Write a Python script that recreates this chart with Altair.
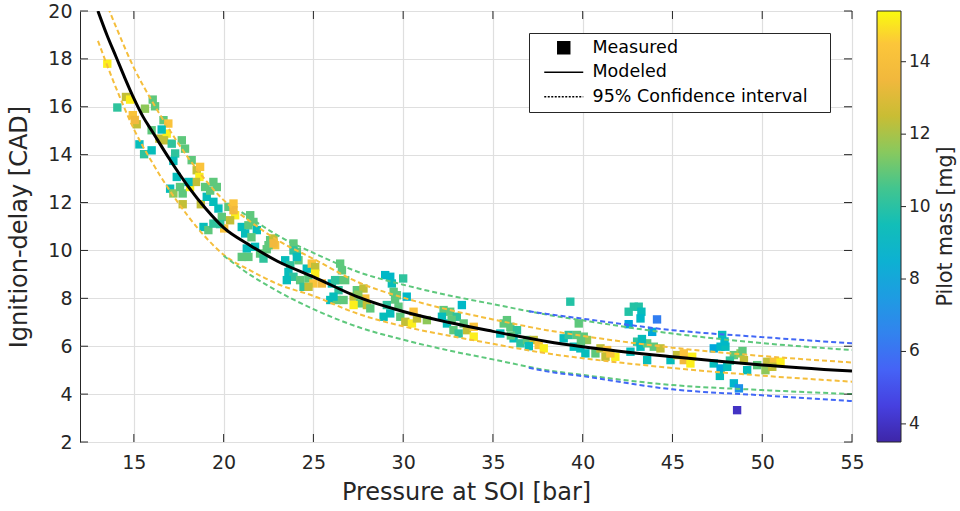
import altair as alt
import pandas as pd

# ---------------- measured points: pressure at SOI [bar], ignition delay [CAD], pilot mass [mg]
P_meas = [13.52, 14.08, 14.56, 14.79, 14.94, 15.16, 15.05, 15.31, 15.57, 15.62, 16.05, 16.18, 15.99, 15.99,
          16.42, 16.65, 16.92, 16.83, 16.68, 16.55, 17.11, 17.30, 17.67, 17.85, 17.20, 17.02, 17.20, 17.72,
          17.72, 17.39, 17.57, 18.13, 18.22, 18.50, 18.69, 18.65, 18.46, 18.04, 18.73, 18.97, 19.43, 19.62,
          19.06, 19.43, 19.71, 18.88, 19.15, 19.43, 19.90, 20.27, 20.55, 20.64, 20.36, 20.03, 20.55, 19.25, 19.80,
          21.01, 21.38, 21.48, 21.66, 21.20, 21.29, 21.01, 21.38, 21.75, 22.03, 22.22, 22.40, 22.59, 22.78,
          22.87, 22.50, 21.85, 21.55, 22.78,
          23.43, 23.71, 23.89, 24.08, 24.17, 23.61, 23.89, 23.52, 24.26, 24.45, 24.63, 24.91, 25.10, 25.10,
          24.72, 25.00, 25.47, 24.73, 23.89, 24.08,
          26.03, 26.31, 26.49, 26.59, 26.40, 25.94, 26.31, 26.68, 26.12, 26.77, 26.21,
          27.24, 27.42, 27.79, 27.89, 27.61, 27.98, 27.24, 28.17, 27.50,
          29.00, 29.28, 30.00, 30.20, 29.37, 29.47, 29.65, 28.91, 29.28, 29.74, 29.09, 29.84, 30.12, 30.49,
          30.58, 30.77, 31.32, 29.55,
          33.27, 32.25, 32.62, 32.16, 32.99, 32.44, 32.80, 33.37, 33.55, 33.93, 33.93, 33.09, 32.70,
          35.60, 35.97, 35.41, 36.34, 36.15, 36.53, 36.90, 37.27, 37.55, 37.83, 35.78, 36.00, 37.00,
          39.31, 39.78, 38.94, 39.22, 39.68, 40.06, 40.24, 39.50, 39.87, 40.15, 39.90, 40.71, 40.99, 41.36,
          41.27, 41.82, 41.54,
          42.56, 42.85, 43.12, 43.27, 43.22, 42.56, 44.14, 43.87, 43.03, 43.22, 43.59, 43.96, 44.33, 43.59,
          42.66, 43.30,
          44.89, 45.26, 45.63, 45.63, 46.00, 46.10,
          47.30, 47.77, 47.68, 47.95, 47.30, 47.68, 48.05, 47.64, 48.42, 48.79, 48.98, 49.16, 48.42, 48.70,
          48.60, 48.20, 47.90, 48.90,
          49.72, 50.18, 50.28, 50.65, 51.02, 50.56]
ID_meas = [17.80, 15.97, 16.41, 16.30, 15.65, 15.27, 15.45, 14.43, 14.02, 15.92, 16.30, 16.02, 15.02, 14.18,
           14.67, 15.44, 15.30, 14.88, 14.60, 15.05, 14.46, 14.05, 14.60, 14.25, 13.74, 12.58, 12.38, 11.93,
           12.38, 13.07, 12.65, 12.65, 13.77, 13.35, 13.49, 13.07, 12.86, 12.86, 11.93, 12.65, 12.86, 12.65,
           12.24, 12.03, 11.75, 10.98, 10.85, 11.12, 11.40, 11.82, 11.96, 11.47, 11.26, 10.92, 11.68, 12.50, 11.10,
           10.98, 11.05, 11.47, 11.19, 10.71, 10.08, 9.73, 9.73, 10.15, 9.87, 9.66, 10.05, 10.43, 10.50,
           10.22, 10.22, 10.85, 10.55, 10.29,
           9.59, 9.38, 10.29, 9.94, 9.59, 9.10, 8.90, 8.76, 8.76, 8.48, 9.24, 9.45, 9.31, 9.03,
           8.83, 8.62, 8.62, 8.48, 10.00, 9.73,
           8.62, 8.76, 9.45, 9.17, 8.34, 7.93, 7.93, 7.93, 8.07, 8.76, 8.76,
           8.07, 8.34, 8.41, 7.99, 7.79, 7.72, 7.72, 7.58, 8.15,
           8.97, 8.90, 8.83, 8.07, 8.62, 8.27, 8.13, 7.23, 7.37, 7.65, 7.72, 7.23, 7.02, 6.95,
           7.44, 7.16, 7.09, 7.95,
           7.72, 7.51, 7.44, 7.23, 7.23, 6.95, 6.67, 6.95, 6.67, 6.81, 6.40, 6.53, 7.10,
           6.95, 6.81, 6.53, 6.67, 6.33, 6.12, 6.26, 6.26, 6.05, 5.91, 7.09, 6.45, 6.00,
           7.86, 6.95, 6.33, 6.47, 6.47, 6.40, 6.26, 5.98, 5.91, 5.70, 6.20, 5.70, 5.91, 5.84,
           5.56, 5.56, 5.70,
           7.44, 7.65, 7.65, 7.44, 7.16, 6.92, 7.12, 6.60, 6.19, 5.98, 6.12, 5.98, 5.91, 5.42,
           5.77, 6.30,
           5.42, 5.63, 5.70, 5.42, 5.28, 5.56,
           5.91, 6.47, 5.98, 5.98, 5.28, 5.07, 5.14, 4.76, 5.63, 5.70, 5.42, 5.00, 4.45, 4.24,
           3.33, 5.40, 6.20, 5.80,
           5.21, 5.00, 5.35, 5.35, 5.35, 5.14]
M_meas = [15.2, 10.2, 12.4, 15.2, 14.3, 12.4, 13.6, 9.4, 10.2, 11.6, 10.9, 10.9, 10.9, 9.4,
          12.4, 10.9, 14.3, 15.2, 12.4, 9.4, 10.2, 10.2, 10.9, 10.9, 9.4, 9.4, 11.6, 12.4,
          10.9, 9.4, 10.9, 15.2, 10.9, 12.4, 14.3, 15.2, 12.4, 9.4, 12.4, 10.9, 10.9, 10.9,
          9.4, 9.4, 9.4, 9.4, 10.9, 10.2, 10.9, 10.9, 14.3, 15.2, 12.4, 14.3, 13.6, 10.9, 10.2,
          9.4, 10.9, 10.9, 10.9, 9.4, 9.4, 10.9, 10.9, 9.4, 10.9, 10.2, 10.9, 10.9, 12.4,
          14.3, 10.9, 9.4, 10.9, 13.6,
          9.4, 10.2, 10.9, 10.9, 10.9, 9.4, 10.2, 9.4, 10.9, 10.2, 9.4, 14.3, 12.4, 15.2,
          10.9, 14.3, 13.6, 12.4, 10.2, 9.4,
          9.4, 10.9, 10.9, 10.9, 10.2, 9.4, 10.9, 10.9, 9.4, 10.9, 10.2,
          12.4, 10.9, 12.4, 14.3, 10.9, 12.4, 15.2, 10.9, 11.6,
          9.0, 9.0, 10.2, 9.0, 9.4, 10.9, 10.9, 9.4, 9.4, 10.9, 10.2, 10.9, 12.4, 15.2,
          14.3, 12.4, 11.6, 10.9,
          9.0, 10.9, 10.9, 9.4, 10.2, 9.4, 10.9, 10.9, 12.4, 14.3, 15.2, 10.2, 10.9,
          10.9, 10.9, 9.4, 10.2, 9.4, 10.2, 10.9, 12.4, 14.3, 15.2, 10.9, 10.9, 9.4,
          10.0, 10.9, 9.4, 10.2, 10.9, 10.9, 11.6, 9.4, 9.4, 9.4, 10.9, 10.9, 12.4, 14.3,
          12.4, 15.2, 14.3,
          10.0, 10.0, 10.0, 9.4, 9.0, 7.8, 6.3, 8.0, 10.2, 9.4, 10.9, 10.9, 12.4, 9.4,
          9.4, 9.4,
          9.4, 12.4, 14.3, 13.6, 15.2, 15.2,
          8.0, 9.4, 9.0, 9.4, 9.4, 8.0, 9.4, 9.4, 10.9, 11.6, 12.4, 9.4, 8.8, 7.0,
          4.0, 10.2, 9.0, 10.9,
          10.9, 11.6, 12.4, 14.3, 15.2, 12.4]

# ---------------- modeled curve
P_model = [13.0, 13.5, 14.0, 14.5, 15.0, 15.5, 16.0, 17.0, 18.0, 19.0, 20.0, 21.5, 23.0, 25.0,
           27.5, 30.0, 32.5, 35.0, 38.0, 40.0, 45.0, 50.0, 55.0]
ID_model = [20.0, 19.0, 18.1, 17.2, 16.35, 15.6, 15.0, 13.8, 12.7, 11.75, 10.95, 10.2, 9.55, 8.9,
            8.05, 7.45, 7.0, 6.62, 6.2, 5.98, 5.56, 5.22, 4.96]

# ---------------- 95 % confidence intervals (one pair per pilot mass group)
ci_orange_mass = 13.9
ci_orange_up_P = [13.4, 14, 15, 16, 17, 18, 19, 20, 21.5, 23, 25, 27.5, 30, 32.5, 35, 38, 40, 45, 50, 55]
ci_orange_up = [20.45, 19.35, 17.63, 16.25, 15.02, 13.9, 12.93, 12.1, 11.2, 10.43, 9.65, 8.67, 8.03,
                7.53, 7.12, 6.67, 6.43, 5.94, 5.59, 5.32]
ci_orange_lo_P = [13.0, 14, 15, 16, 17, 18, 19, 20, 21.5, 23, 25, 27.5, 30, 32.5, 35, 38, 40, 45, 50, 55]
ci_orange_lo = [18.75, 16.8, 15.07, 13.7, 12.5, 11.45, 10.55, 9.82, 9.16, 8.6, 8.1, 7.35, 6.83,
                6.45, 6.1, 5.7, 5.5, 5.09, 4.77, 4.52]
ci_green_mass = 10.9
ci_green_up_P = [21.0, 22, 23, 25, 27.5, 30, 32.5, 35, 38, 40, 45, 50, 55]
ci_green_up = [11.6, 11.1, 10.63, 9.9, 9.1, 8.57, 8.13, 7.76, 7.32, 7.08, 6.53, 6.13, 5.84]
ci_green_lo_P = [20.0, 21.5, 23, 25, 27.5, 30, 32.5, 35, 38, 40, 45, 50, 55]
ci_green_lo = [9.78, 8.97, 8.3, 7.55, 6.8, 6.27, 5.83, 5.45, 5.0, 4.8, 4.38, 4.17, 4.0]
ci_blue_mass = 5.6
ci_blue_P = [37, 38, 40, 45, 50, 55]
ci_blue_up = [7.46, 7.35, 7.15, 6.67, 6.38, 6.12]
ci_blue_lo = [5.1, 4.95, 4.75, 4.2, 3.95, 3.71]

x_ticks = [15, 20, 25, 30, 35, 40, 45, 50, 55]
y_ticks = [2, 4, 6, 8, 10, 12, 14, 16, 18, 20]
cbar_ticks = [4, 6, 8, 10, 12, 14]
cbar_range = [3.5, 15.4]
cbar_title = ["Pilot mass [mg]"]
legend_items = ["Measured", "Modeled", "95% Confidence interval"]

# parula-like colour map
c_dom = [3.5, 4.5, 5.5, 6.5, 7.5, 8.5, 9.5, 10.5, 11.5, 12.5, 13.5, 14.5, 15.4]
c_rng = ["#3E26A8", "#4640E0", "#4563F6", "#3283EE", "#1E9CE2", "#0DB1D2", "#12BEB8",
         "#42C58F", "#88C95E", "#C9BD34", "#F1B83D", "#FCC63A", "#F9FB0E"]

# ---------------- tables
meas = pd.DataFrame({"P": P_meas, "ID": ID_meas, "mass": M_meas})
model = pd.DataFrame({"P": P_model, "ID": ID_model})
rows = []
for name, mass, ps, vs in [
    ("orange_up", ci_orange_mass, ci_orange_up_P, ci_orange_up),
    ("orange_lo", ci_orange_mass, ci_orange_lo_P, ci_orange_lo),
    ("green_up", ci_green_mass, ci_green_up_P, ci_green_up),
    ("green_lo", ci_green_mass, ci_green_lo_P, ci_green_lo),
    ("blue_up", ci_blue_mass, ci_blue_P, ci_blue_up),
    ("blue_lo", ci_blue_mass, ci_blue_P, ci_blue_lo),
]:
    for p, v in zip(ps, vs):
        rows.append({"curve": name, "mass": mass, "P": p, "ID": v})
ci = pd.DataFrame(rows)

FONT = "DejaVu Sans"
TXT = "#262626"
W, H = 772, 431
CB_X0, CB_X1 = 797, 821          # colour bar position (right of the axes box)

xs = alt.Scale(domain=[12, 55], nice=False, zero=False)
ys = alt.Scale(domain=[2, 20], nice=False, zero=False)
cscale = alt.Scale(domain=c_dom, range=c_rng)

x_axis = alt.Axis(values=x_ticks, title="Pressure at SOI [bar]", labelPadding=11, titlePadding=8,
                  labelFlush=False, labelOverlap=False)
y_axis = alt.Axis(values=y_ticks, title="Ignition-delay [CAD]", labelPadding=8, titlePadding=16,
                  labelFlush=False, labelOverlap=False)
x_enc = alt.X("P:Q", scale=xs, axis=x_axis)
y_enc = alt.Y("ID:Q", scale=ys, axis=y_axis)

points = alt.Chart(meas).mark_square(size=70, opacity=1).encode(
    x=x_enc, y=y_enc,
    fill=alt.Fill("mass:Q", scale=cscale, legend=None),
)

ci_lines = alt.Chart(ci).mark_line(strokeWidth=2, strokeDash=[5, 3], interpolate="monotone", clip=True).encode(
    x=x_enc, y=y_enc,
    color=alt.Color("mass:Q", scale=cscale, legend=None),
    detail="curve:N",
)

model_line = alt.Chart(model).mark_line(color="black", strokeWidth=3, interpolate="monotone", clip=True).encode(
    x=x_enc, y=y_enc,
)

xt = pd.DataFrame({"P": x_ticks})
yt = pd.DataFrame({"ID": y_ticks})
tick_bottom = alt.Chart(xt).mark_rule(color=TXT).encode(x=x_enc, y=alt.value(H), y2=alt.value(H - 8))
tick_top = alt.Chart(xt).mark_rule(color=TXT).encode(x=x_enc, y=alt.value(0), y2=alt.value(8))
tick_left = alt.Chart(yt).mark_rule(color=TXT).encode(y=y_enc, x=alt.value(0), x2=alt.value(8))
tick_right = alt.Chart(yt).mark_rule(color=TXT).encode(y=y_enc, x=alt.value(W), x2=alt.value(W - 8))

# ---------------- colour bar: pilot-mass values mapped linearly onto the full plot height
lo, hi = cbar_range
to_y = f"2 + (datum.m - {lo}) * 18 / ({hi} - {lo})"
grad = alt.LinearGradient(
    gradient="linear", x1=0, x2=0, y1=1, y2=0,
    stops=[alt.GradientStop(offset=(d - lo) / (hi - lo), color=c) for d, c in zip(c_dom, c_rng)],
)
cb_box = pd.DataFrame({"m": [lo], "m2": [hi]})
cbar = alt.Chart(cb_box).transform_calculate(
    ID=to_y, ID2=f"2 + (datum.m2 - {lo}) * 18 / ({hi} - {lo})"
).mark_rect(fill=grad, stroke=TXT, strokeWidth=1).encode(
    y=alt.Y("ID:Q", scale=ys, axis=y_axis), y2="ID2:Q",
    x=alt.value(CB_X0), x2=alt.value(CB_X1),
)
cb_t = pd.DataFrame({"m": cbar_ticks})
cbar_tick_marks = alt.Chart(cb_t).transform_calculate(ID=to_y).mark_rule(color=TXT).encode(
    y=alt.Y("ID:Q", scale=ys, axis=y_axis), x=alt.value(CB_X1), x2=alt.value(CB_X1 + 5),
)
cbar_labels = alt.Chart(cb_t).transform_calculate(ID=to_y, lab="format(datum.m, 'd')").mark_text(
    align="left", baseline="middle", font=FONT, fontSize=17, color=TXT
).encode(
    y=alt.Y("ID:Q", scale=ys, axis=y_axis), x=alt.value(CB_X1 + 8), text="lab:N",
)
cbar_title_layer = alt.Chart(pd.DataFrame({"t": cbar_title})).mark_text(
    angle=270, font=FONT, fontSize=20.5, color=TXT, align="center", baseline="middle"
).encode(text="t:N", x=alt.value(866), y=alt.value(H / 2))

# ---------------- legend (Measured / Modeled / CI) driven by shape + strokeDash + stroke scales
shape_rng = ["M-0.92,-0.92H0.92V0.92H-0.92Z", "M-3,0H3", "M-3,0H3"]
dash_rng = [[1, 0], [1, 0], [2, 1.5]]
ink_rng = ["black", "black", "black"]
leg_df = pd.DataFrame({"item": legend_items})
item_legend = alt.Legend(orient="top-right", offset=22, padding=6, strokeColor=TXT,
                         fillColor="white", labelFont=FONT, labelFontSize=17.5,
                         labelColor="black", labelLimit=500, symbolSize=169,
                         symbolStrokeWidth=1.5, symbolOpacity=1,
                         symbolFillColor="black", symbolStrokeColor="black",
                         rowPadding=5.5, symbolOffset=20, labelOffset=20,
                         title="\u00a0", titleOrient="right", titlePadding=16, titleFontSize=8)
legend_layer = alt.Chart(leg_df).mark_point(
    filled=True, fill="black", strokeWidth=1.5, opacity=1
).encode(
    shape=alt.Shape("item:N", scale=alt.Scale(domain=legend_items, range=shape_rng), legend=item_legend),
    strokeDash=alt.StrokeDash("item:N", scale=alt.Scale(domain=legend_items, range=dash_rng), legend=item_legend),
    stroke=alt.Stroke("item:N", scale=alt.Scale(domain=legend_items, range=ink_rng), legend=item_legend),
).transform_filter("false")

chart = alt.layer(
    points, ci_lines, model_line, tick_bottom, tick_top, tick_left, tick_right,
    cbar, cbar_tick_marks, cbar_labels, cbar_title_layer, legend_layer
).properties(
    width=W, height=H,
    autosize=alt.AutoSizeParams(type="none"),
    padding={"left": 80, "top": 11, "right": 108, "bottom": 69},
    background="white",
).configure_axis(
    labelFont=FONT, labelFontSize=19, labelColor=TXT,
    titleFont=FONT, titleFontSize=24, titleColor=TXT, titleFontWeight="normal",
    grid=True, gridColor="#DFDFDF", gridWidth=1.2, domain=False, ticks=False, tickSize=0,
).configure_view(stroke=TXT, strokeWidth=1)

chart.save("out.html", embed_options={"renderer": "svg", "actions": False})
